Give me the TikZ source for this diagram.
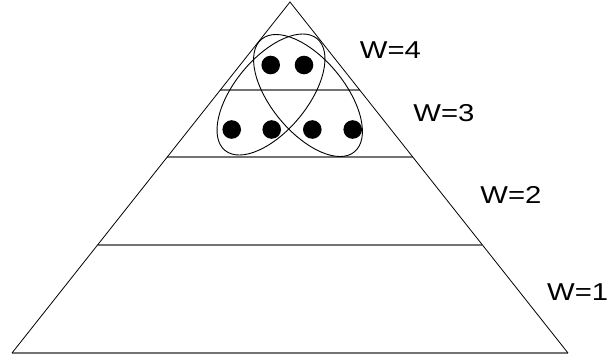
\documentclass[tikz,border=0pt]{standalone}
\usepackage{fontspec}
\setmainfont{Liberation Sans}
\usetikzlibrary{calc}
\begin{document}
\begin{tikzpicture}[x=1pt,y=-1pt,
  side/.style={draw=black,line width=0.8pt},
  level/.style={draw=black!55,line width=1.5pt},
  loop/.style={draw=black,line width=0.9pt},
  dot/.style={circle,fill=black,inner sep=0pt,minimum size=18.6pt},
  wlabel/.style={font=\fontsize{24.4}{26}\selectfont,inner sep=0pt}]
\useasboundingbox (0,0) rectangle (608,360);
\coordinate (apex) at (290,2);
\coordinate (bl) at (12,353);
\coordinate (br) at (568,353);
% levels
\coordinate (l90) at ($(apex)!0.2507!(bl)$);
\coordinate (r90) at ($(apex)!0.2507!(br)$);
\coordinate (l157) at ($(apex)!0.4416!(bl)$);
\coordinate (r157) at ($(apex)!0.4416!(br)$);
\coordinate (l245) at ($(apex)!0.6923!(bl)$);
\coordinate (r245) at ($(apex)!0.6923!(br)$);
\draw[level] (l90) -- (r90);
\draw[level] (l157) -- (r157);
\draw[level] (l245) -- (r245);
\draw[level] (bl) -- (br);
\draw[side] (bl) -- (apex) -- (br);
% dots
\node[dot] (d1) at (270.7,65) {};
\node[dot] (d2) at (304,65) {};
\node[dot] (d3) at (231.7,129.5) {};
\node[dot] (d4) at (271.7,129.5) {};
\node[dot] (d5) at (312.3,129.5) {};
\node[dot] (d6) at (352.7,129.5) {};
% loops
\draw[loop] (271,94.5) circle [x radius=72.4pt, y radius=36.5pt, rotate=50.5];
\draw[loop] (308,95.5) circle [x radius=73pt, y radius=36.8pt, rotate=-50.5];
% labels
\node[wlabel] (w4) at (390.5,50) {\scalebox{1.2}[1]{W=4}};
\node[wlabel] (w3) at (444,113.5) {\scalebox{1.2}[1]{W=3}};
\node[wlabel] (w2) at (511,194.5) {\scalebox{1.2}[1]{W=2}};
\node[wlabel,anchor=west] (w1) at (547,292) {\scalebox{1.2}[1]{W=1}};
\end{tikzpicture}
\end{document}
